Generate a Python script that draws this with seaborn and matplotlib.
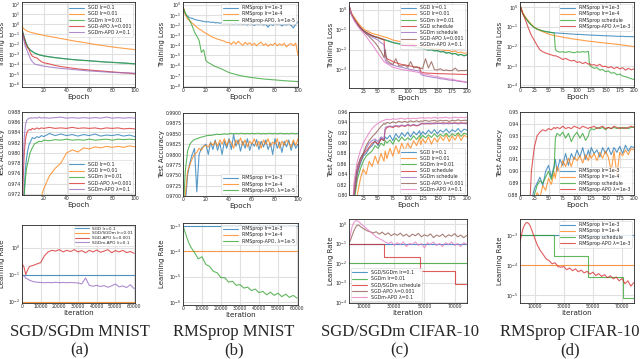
import numpy as np
import seaborn as sns
import matplotlib
matplotlib.use("Agg")
import matplotlib.pyplot as plt
from matplotlib.ticker import LogLocator, NullFormatter, FormatStrFormatter

# ---------------- data ----------------
# epochs used for the MNIST panels
ep_a = [1, 2, 3, 4, 5, 6, 7, 8, 9, 10, 12, 14, 16, 18, 20, 25, 30, 35, 40, 45,
        50, 55, 60, 65, 70, 75, 80, 85, 90, 95, 100]
ep_b = list(range(0, 101, 2))
# epochs used for the CIFAR-10 panels
ep_c = [1, 5, 10, 15, 20, 25, 30, 35, 40, 45, 50, 55, 60, 62, 65, 70, 75, 80, 85,
        90, 95, 100, 105, 110, 115, 120, 122, 125, 130, 135, 140, 145, 150, 155,
        160, 165, 170, 175, 180, 185, 190, 195, 200]
iters_mnist = [0, 1000, 2000, 3000, 4000] + list(range(6000, 60001, 2000))
iters_cifar = [0, 1000, 2000, 3000, 4000, 5000, 6000, 7000, 8000] + list(range(10000, 78001, 2000))
sched_iters = [0, 23460, 46920, 70380, 78200]

# (a) SGD/SGDm MNIST
a_loss_sgd01 = [0.28, 0.11, 0.045, 0.02, 0.0095, 0.0052, 0.0036, 0.0026, 0.0021, 0.0018, 0.00125, 0.001,
                0.00083, 0.00072, 0.00064, 0.00052, 0.00043, 0.00037, 0.00032, 0.00028, 0.00025, 0.00023,
                0.00021, 0.00019, 0.00017, 0.000155, 0.000145, 0.000135, 0.000125, 0.000115, 0.000105]
a_loss_sgd001 = [0.6, 0.38, 0.29, 0.24, 0.21, 0.18, 0.165, 0.15, 0.14, 0.13, 0.115, 0.1, 0.09, 0.08, 0.07,
                 0.055, 0.044, 0.034, 0.027, 0.021, 0.017, 0.014, 0.011, 0.0088, 0.0072, 0.006, 0.005,
                 0.0042, 0.0036, 0.0031, 0.0027]
a_loss_sgdm = [0.25, 0.1, 0.04, 0.018, 0.009, 0.005, 0.0035, 0.0025, 0.002, 0.0017, 0.0012, 0.00095, 0.0008,
               0.0007, 0.00062, 0.0005, 0.00042, 0.00036, 0.00031, 0.00027, 0.00024, 0.00022, 0.0002,
               0.00018, 0.000165, 0.00015, 0.00014, 0.00013, 0.00012, 0.00011, 0.0001]
a_loss_sgdapo = [0.2, 0.08, 0.03, 0.012, 0.006, 0.004, 0.003, 0.0015, 0.0009, 0.0006, 0.00045, 0.0004,
                 0.00025, 0.00017, 0.00013, 0.0001, 7e-5, 5.5e-5, 4.5e-5, 3.8e-5, 3.2e-5, 2.8e-5, 2.5e-5,
                 2.2e-5, 2e-5, 1.8e-5, 1.6e-5, 1.45e-5, 1.3e-5, 1.2e-5, 1e-5]
a_loss_sgdmapo = [0.15, 0.05, 0.015, 0.005, 0.003, 0.0015, 0.0008, 0.0004, 0.00025, 0.00017, 0.0001, 8.5e-5,
                  7.5e-5, 6.5e-5, 6e-5, 5e-5, 4.2e-5, 3.6e-5, 3.2e-5, 2.8e-5, 2.5e-5, 2.2e-5, 2e-5, 1.85e-5,
                  1.7e-5, 1.55e-5, 1.45e-5, 1.35e-5, 1.3e-5, 1.25e-5, 1.2e-5]
a_acc_sgd01 = [0.96, 0.968, 0.973, 0.977, 0.979, 0.9805, 0.9815, 0.982, 0.9825, 0.983, 0.9828, 0.9832, 0.983,
               0.9834, 0.9832, 0.9838, 0.9834, 0.9837, 0.9834, 0.9836, 0.9833, 0.9836, 0.9834, 0.9837, 0.9833,
               0.9835, 0.9834, 0.9836, 0.9833, 0.9835, 0.9832]
a_acc_sgd001 = [0.93, 0.94, 0.945, 0.95, 0.953, 0.956, 0.958, 0.96, 0.962, 0.963, 0.966, 0.968, 0.97, 0.9715,
                0.973, 0.9755, 0.977, 0.978, 0.98, 0.9806, 0.9802, 0.981, 0.9808, 0.9812, 0.981, 0.9813,
                0.9811, 0.9813, 0.9811, 0.9814, 0.9812]
a_acc_sgdm = [0.955, 0.966, 0.972, 0.975, 0.977, 0.978, 0.979, 0.98, 0.9805, 0.981, 0.9818, 0.982, 0.9823,
              0.9822, 0.9825, 0.9824, 0.9826, 0.9825, 0.9827, 0.9825, 0.9826, 0.9825, 0.9827, 0.9825, 0.9826,
              0.9827, 0.9825, 0.9827, 0.9826, 0.9827, 0.9826]
a_acc_sgdapo = [0.965, 0.975, 0.98, 0.9825, 0.9838, 0.9843, 0.9845, 0.9846, 0.9845, 0.9848, 0.9846, 0.9849,
                0.9847, 0.9849, 0.9848, 0.985, 0.9848, 0.9849, 0.9848, 0.985, 0.9848, 0.9849, 0.9848, 0.9849,
                0.9847, 0.9849, 0.9848, 0.9849, 0.9847, 0.9848, 0.9847]
a_acc_sgdmapo = [0.97, 0.978, 0.983, 0.9855, 0.9863, 0.9866, 0.9868, 0.9868, 0.9869, 0.9868, 0.9869, 0.9868,
                 0.987, 0.9868, 0.9869, 0.9868, 0.9869, 0.987, 0.9868, 0.9869, 0.9868, 0.9869, 0.9868, 0.9869,
                 0.9868, 0.987, 0.9868, 0.9869, 0.9868, 0.9869, 0.9868]
a_lr_sgd01 = [0.1, 0.1]
a_lr_sgd001 = [0.01, 0.01]
a_lr_sgdapo = [0.25, 0.2, 0.1, 0.15, 0.2, 0.22, 0.25, 0.28, 0.5, 0.7, 0.8, 0.75, 0.85, 0.7, 0.8, 0.72, 0.85,
               0.7, 0.78, 0.65, 0.8, 0.7, 0.82, 0.68, 0.75, 0.85, 0.65, 0.78, 0.7, 0.8, 0.66, 0.72, 0.62]
a_lr_sgdmapo = [0.1, 0.09, 0.075, 0.068, 0.062, 0.055, 0.052, 0.051, 0.05, 0.051, 0.05, 0.052, 0.05, 0.051,
                0.05, 0.051, 0.05, 0.049, 0.045, 0.075, 0.04, 0.037, 0.04, 0.036, 0.039, 0.034, 0.038, 0.045,
                0.035, 0.038, 0.033, 0.042, 0.03]

# (b) RMSprop MNIST
b_loss_1e3 = [0.6, 0.12, 0.07, 0.05, 0.045, 0.035, 0.03, 0.028, 0.025, 0.022, 0.02, 0.021, 0.018, 0.019,
              0.016, 0.017, 0.015, 0.016, 0.014, 0.015, 0.013, 0.014, 0.012, 0.015, 0.012, 0.014, 0.011,
              0.013, 0.010, 0.014, 0.012, 0.009, 0.013, 0.011, 0.014, 0.010, 0.012, 0.006, 0.013, 0.009,
              0.014, 0.011, 0.013, 0.008, 0.012, 0.010, 0.013, 0.009, 0.005, 0.012, 0.02]
b_loss_1e4 = [0.8, 0.1, 0.04, 0.025, 0.015, 0.01, 0.006, 0.004, 0.003, 0.002, 0.0015, 0.0011, 0.0008, 0.0006,
              0.0005, 0.0004, 0.00035, 0.0003, 0.00025, 0.00018, 0.0002, 0.00012, 0.00022, 0.00013, 0.00025,
              0.00015, 0.0001, 0.0002, 0.00012, 0.00018, 0.0001, 0.00016, 0.00009, 0.00015, 0.0002, 0.0001,
              0.00015, 0.00008, 0.00013, 0.0001, 0.00017, 0.00009, 0.00014, 0.0001, 0.00016, 0.00007,
              0.00012, 0.00015, 0.00009, 0.00017, 0.00001]
b_loss_apo = [0.5, 0.15, 0.06, 0.025, 0.008, 0.002, 0.0008, 0.0003, 2e-5, 3.6e-5, 3e-6, 2e-6, 1.5e-6, 1.1e-6,
              8.5e-7, 6.8e-7, 5.5e-7, 4.5e-7, 3.5e-7, 2.7e-7, 2.1e-7, 1.8e-7, 1.55e-7, 1.35e-7, 1.2e-7,
              1.05e-7, 9.5e-8, 8.6e-8, 7.9e-8, 7.3e-8, 6.8e-8, 6.3e-8, 5.9e-8, 5.5e-8, 5.2e-8, 4.9e-8,
              4.7e-8, 4.5e-8, 4.3e-8, 4.1e-8, 4e-8, 3.8e-8, 3.6e-8, 3.5e-8, 3.3e-8, 3.2e-8, 3.1e-8, 3e-8,
              2.9e-8, 2.8e-8, 2.7e-8]
b_acc_1e3 = [0.95, 0.968, 0.975, 0.978, 0.98, 0.9815, 0.971, 0.98, 0.9815, 0.982, 0.9825, 0.98, 0.983,
             0.9812, 0.9835, 0.981, 0.9828, 0.98, 0.9832, 0.9815, 0.9838, 0.9812, 0.9848, 0.982, 0.9835,
             0.9808, 0.9832, 0.9815, 0.9838, 0.981, 0.9828, 0.982, 0.9836, 0.9812, 0.9832, 0.9818, 0.9835,
             0.9812, 0.9828, 0.98, 0.9838, 0.9815, 0.983, 0.9805, 0.9832, 0.9818, 0.9835, 0.981, 0.983,
             0.9815, 0.9825]
b_acc_1e4 = [0.95, 0.97, 0.976, 0.9775, 0.979, 0.98, 0.9805, 0.9815, 0.981, 0.982, 0.9822, 0.9818, 0.9828,
             0.9822, 0.9832, 0.982, 0.9835, 0.9825, 0.9838, 0.9822, 0.9835, 0.9828, 0.9815, 0.9835, 0.9825,
             0.984, 0.9822, 0.9835, 0.9818, 0.9832, 0.9825, 0.9838, 0.982, 0.9832, 0.9815, 0.9835, 0.9825,
             0.9838, 0.982, 0.983, 0.9825, 0.9838, 0.9815, 0.9832, 0.9822, 0.9835, 0.9828, 0.9818, 0.9835,
             0.9822, 0.9838]
b_acc_apo = [0.965, 0.976, 0.9808, 0.9825, 0.9832, 0.9836, 0.9838, 0.984, 0.9842, 0.9843, 0.9845, 0.9846,
             0.9846, 0.9847, 0.9848, 0.9849, 0.9848, 0.9849, 0.985, 0.9849, 0.985, 0.9851, 0.985, 0.9851,
             0.985, 0.9851, 0.9851, 0.985, 0.9851, 0.985, 0.9851, 0.985, 0.9851, 0.9851, 0.985, 0.9851,
             0.985, 0.9851, 0.9851, 0.985, 0.9851, 0.985, 0.9851, 0.9851, 0.985, 0.9851, 0.985, 0.9851,
             0.9851, 0.985, 0.9851]
b_lr_1e3 = [1e-3, 1e-3]
b_lr_1e4 = [1e-4, 1e-4]
b_lr_apo = [1e-3, 6e-4, 3.5e-4, 2.2e-4, 1.5e-4, 9e-5, 5e-5, 6e-5, 3e-5, 2.5e-5, 1.6e-5, 1.4e-5, 9e-6, 9e-6,
            6e-6, 6.5e-6, 4.5e-6, 4.8e-6, 3.5e-6, 3.8e-6, 2.8e-6, 3.2e-6, 2.3e-6, 2.6e-6, 1.9e-6, 2.4e-6,
            1.8e-6, 2.2e-6, 1.6e-6, 2e-6, 1.5e-6, 1.8e-6, 1.4e-6]

# (c) SGD/SGDm CIFAR-10
c_loss_sgd01 = [1.6, 0.6, 0.33, 0.2, 0.13, 0.09, 0.072, 0.06, 0.05, 0.044, 0.04, 0.035, 0.032, 0.031, 0.029,
                0.026, 0.023, 0.021, 0.02, 0.019, 0.017, 0.016, 0.015, 0.0145, 0.013, 0.012, 0.013, 0.011,
                0.0105, 0.0095, 0.01, 0.0088, 0.009, 0.0078, 0.008, 0.0068, 0.0072, 0.006, 0.0065, 0.0052,
                0.0058, 0.0048, 0.0055]
c_loss_sgd001 = [1.6, 0.7, 0.4, 0.25, 0.16, 0.11, 0.09, 0.075, 0.065, 0.058, 0.054, 0.048, 0.043, 0.042, 0.04,
                 0.035, 0.03, 0.028, 0.026, 0.024, 0.022, 0.02, 0.019, 0.018, 0.016, 0.015, 0.016, 0.014,
                 0.013, 0.0125, 0.012, 0.011, 0.011, 0.01, 0.0095, 0.0088, 0.009, 0.0078, 0.0085, 0.007,
                 0.0075, 0.0065, 0.0068]
c_loss_sgdm = [1.6, 0.58, 0.31, 0.19, 0.125, 0.088, 0.07, 0.058, 0.049, 0.043, 0.039, 0.034, 0.031, 0.03,
               0.028, 0.025, 0.022, 0.021, 0.019, 0.018, 0.0165, 0.0155, 0.0145, 0.014, 0.0125, 0.0118, 0.0125,
               0.011, 0.0102, 0.0095, 0.0098, 0.0085, 0.0088, 0.0076, 0.0079, 0.0066, 0.0071, 0.006, 0.0064,
               0.0053, 0.0057, 0.005, 0.0055]
c_loss_sgdsched = [1.6, 0.6, 0.33, 0.2, 0.13, 0.09, 0.072, 0.06, 0.05, 0.044, 0.04, 0.035, 0.032, 0.005,
                   0.0035, 0.003, 0.0025, 0.0022, 0.002, 0.0018, 0.0017, 0.0016, 0.0015, 0.0014, 0.0013,
                   0.0013, 0.0008, 0.0007, 0.00068, 0.00066, 0.00065, 0.00064, 0.00063, 0.00062, 0.00062,
                   0.00061, 0.0006, 0.0006, 0.00059, 0.00058, 0.00058, 0.00057, 0.00057]
c_loss_sgdmsched = [1.6, 0.58, 0.3, 0.18, 0.12, 0.085, 0.065, 0.052, 0.043, 0.036, 0.03, 0.022, 0.018, 0.003,
                    0.0022, 0.0019, 0.0017, 0.0015, 0.0014, 0.0013, 0.0012, 0.0011, 0.001, 0.00095, 0.0009,
                    0.00085, 0.0006, 0.00052, 0.00048, 0.00045, 0.00042, 0.0004, 0.00038, 0.00035, 0.00034,
                    0.00032, 0.0003, 0.00029, 0.00028, 0.00026, 0.00025, 0.00024, 0.00023]
c_loss_sgdapo = [1.6, 0.6, 0.32, 0.19, 0.12, 0.085, 0.06, 0.045, 0.032, 0.022, 0.014, 0.008, 0.004, 0.01,
                 0.0028, 0.0022, 0.0018, 0.0035, 0.0016, 0.0015, 0.0017, 0.0013, 0.0025, 0.0012, 0.0014,
                 0.0011, 0.0012, 0.0011, 0.0035, 0.0012, 0.0025, 0.001, 0.00095, 0.0011, 0.0009, 0.00095,
                 0.00088, 0.0009, 0.0012, 0.00085, 0.0009, 0.00088, 0.00092]
c_loss_sgdmapo = [1.6, 0.55, 0.28, 0.16, 0.1, 0.07, 0.045, 0.028, 0.018, 0.011, 0.0065, 0.004, 0.0025, 0.0022,
                  0.002, 0.0016, 0.0013, 0.0012, 0.0011, 0.001, 0.00095, 0.0009, 0.00085, 0.0008, 0.00075,
                  0.0007, 0.00068, 0.00062, 0.00058, 0.00055, 0.0005, 0.00047, 0.00045, 0.0004, 0.00038,
                  0.00036, 0.00034, 0.00033, 0.0003, 0.00028, 0.00027, 0.00025, 0.00023]
c_acc_sgd01 = [0.55, 0.72, 0.80, 0.84, 0.86, 0.875, 0.88, 0.89, 0.895, 0.905, 0.895, 0.91, 0.905, 0.912, 0.908,
               0.915, 0.905, 0.918, 0.91, 0.92, 0.913, 0.921, 0.912, 0.922, 0.916, 0.924, 0.915, 0.922, 0.917,
               0.925, 0.919, 0.926, 0.918, 0.925, 0.921, 0.927, 0.92, 0.926, 0.922, 0.928, 0.921, 0.927, 0.925]
c_acc_sgd001 = [0.5, 0.68, 0.76, 0.80, 0.83, 0.85, 0.84, 0.865, 0.855, 0.875, 0.86, 0.88, 0.865, 0.885, 0.87,
                0.89, 0.875, 0.895, 0.88, 0.9, 0.885, 0.9, 0.89, 0.905, 0.895, 0.91, 0.897, 0.908, 0.9, 0.912,
                0.898, 0.91, 0.902, 0.913, 0.905, 0.916, 0.903, 0.914, 0.906, 0.917, 0.905, 0.915, 0.912]
c_acc_sgdm = [0.55, 0.71, 0.79, 0.83, 0.85, 0.865, 0.875, 0.88, 0.885, 0.895, 0.89, 0.9, 0.895, 0.905, 0.9,
              0.906, 0.898, 0.91, 0.903, 0.912, 0.905, 0.91, 0.906, 0.914, 0.907, 0.915, 0.909, 0.915, 0.91,
              0.916, 0.911, 0.918, 0.912, 0.917, 0.913, 0.919, 0.912, 0.918, 0.914, 0.92, 0.913, 0.919, 0.917]
c_acc_sgdsched = [0.55, 0.72, 0.8, 0.845, 0.865, 0.878, 0.885, 0.892, 0.9, 0.903, 0.898, 0.908, 0.905, 0.925,
                  0.93, 0.932, 0.93, 0.933, 0.931, 0.934, 0.932, 0.935, 0.933, 0.935, 0.933, 0.935, 0.937,
                  0.938, 0.937, 0.938, 0.937, 0.939, 0.938, 0.938, 0.939, 0.938, 0.939, 0.938, 0.939, 0.938,
                  0.939, 0.938, 0.939]
c_acc_sgdmsched = [0.55, 0.73, 0.81, 0.85, 0.87, 0.88, 0.89, 0.9, 0.905, 0.908, 0.903, 0.912, 0.908, 0.93,
                   0.932, 0.933, 0.932, 0.934, 0.933, 0.935, 0.933, 0.936, 0.934, 0.936, 0.934, 0.936, 0.937,
                   0.937, 0.938, 0.937, 0.938, 0.937, 0.938, 0.938, 0.937, 0.938, 0.937, 0.938, 0.938, 0.937,
                   0.938, 0.938, 0.937]
c_acc_sgdapo = [0.55, 0.74, 0.82, 0.855, 0.87, 0.88, 0.895, 0.905, 0.912, 0.918, 0.925, 0.932, 0.938, 0.936,
                0.94, 0.938, 0.941, 0.939, 0.942, 0.94, 0.942, 0.94, 0.943, 0.941, 0.943, 0.941, 0.943, 0.942,
                0.944, 0.942, 0.943, 0.944, 0.942, 0.944, 0.943, 0.944, 0.942, 0.944, 0.943, 0.945, 0.943,
                0.944, 0.944]
c_acc_sgdmapo = [0.55, 0.75, 0.83, 0.865, 0.885, 0.9, 0.91, 0.92, 0.928, 0.934, 0.938, 0.942, 0.944, 0.945,
                 0.946, 0.945, 0.947, 0.946, 0.947, 0.948, 0.946, 0.948, 0.947, 0.948, 0.947, 0.949, 0.948,
                 0.949, 0.948, 0.949, 0.948, 0.95, 0.948, 0.949, 0.949, 0.95, 0.948, 0.949, 0.95, 0.949, 0.95,
                 0.949, 0.95]
c_lr_sgd01 = [0.1, 0.1]
c_lr_sgdm001 = [0.01, 0.01]
c_lr_sched = [0.1, 0.02, 0.004, 0.0008, 0.0008]
c_lr_sgdapo = [0.1, 0.15, 0.25, 0.4, 0.6, 0.8, 0.9, 0.8, 0.7, 0.55, 0.45, 0.4, 0.35, 0.4, 0.3, 0.38, 0.28,
               0.35, 0.25, 0.32, 0.26, 0.34, 0.24, 0.3, 0.22, 0.3, 0.25, 0.33, 0.22, 0.28, 0.24, 0.31, 0.2,
               0.27, 0.23, 0.3, 0.21, 0.28, 0.24, 0.32, 0.22, 0.27, 0.2, 0.26]
c_lr_sgdmapo = [0.1, 0.3, 0.7, 1.1, 1.4, 1.5, 1.4, 1.2, 1.0, 0.75, 0.55, 0.4, 0.3, 0.22, 0.18, 0.15, 0.12, 0.1,
                0.12, 0.08, 0.11, 0.09, 0.12, 0.07, 0.1, 0.09, 0.12, 0.08, 0.1, 0.06, 0.11, 0.09, 0.12, 0.08,
                0.1, 0.07, 0.11, 0.09, 0.12, 0.08, 0.1, 0.07, 0.11, 0.09]

# (d) RMSprop CIFAR-10
d_loss_1e3 = [1.0, 0.45, 0.27, 0.17, 0.12, 0.09, 0.075, 0.066, 0.06, 0.056, 0.053, 0.05, 0.048, 0.048, 0.047,
              0.046, 0.045, 0.044, 0.043, 0.042, 0.041, 0.04, 0.04, 0.039, 0.038, 0.038, 0.037, 0.037, 0.036,
              0.036, 0.035, 0.035, 0.034, 0.034, 0.033, 0.033, 0.032, 0.032, 0.032, 0.031, 0.031, 0.031, 0.03]
d_loss_1e4 = [1.0, 0.5, 0.3, 0.19, 0.13, 0.09, 0.075, 0.063, 0.055, 0.048, 0.042, 0.038, 0.035, 0.034, 0.033,
              0.031, 0.029, 0.027, 0.026, 0.024, 0.023, 0.022, 0.021, 0.02, 0.019, 0.018, 0.018, 0.0175, 0.017,
              0.016, 0.0155, 0.015, 0.0145, 0.014, 0.0135, 0.013, 0.0125, 0.012, 0.0115, 0.011, 0.0105, 0.01,
              0.0095]
d_loss_sched = [1.0, 0.45, 0.27, 0.17, 0.12, 0.09, 0.075, 0.066, 0.06, 0.056, 0.053, 0.05, 0.048, 0.007,
                0.0055, 0.005, 0.0052, 0.0048, 0.0053, 0.005, 0.0046, 0.0052, 0.0049, 0.0053, 0.005, 0.0055,
                0.0011, 0.0009, 0.00075, 0.0008, 0.0006, 0.00065, 0.0005, 0.00055, 0.00042, 0.00045, 0.00035,
                0.00038, 0.0003, 0.00028, 0.00025, 0.00022, 0.0002]
d_loss_apo = [1.0, 0.45, 0.2, 0.08, 0.035, 0.02, 0.011, 0.0065, 0.0052, 0.0045, 0.004, 0.0036, 0.0032, 0.0033,
              0.003, 0.0026, 0.0021, 0.0024, 0.002, 0.0018, 0.0019, 0.0015, 0.0016, 0.0013, 0.0015, 0.0012,
              0.0013, 0.0011, 0.00115, 0.001, 0.0012, 0.0009, 0.00095, 0.0008, 0.0009, 0.00072, 0.00085,
              0.0007, 0.0008, 0.0006, 0.00075, 0.00062, 0.0007]
d_acc_1e3 = [0.55, 0.72, 0.8, 0.85, 0.875, 0.885, 0.89, 0.895, 0.888, 0.9, 0.905, 0.895, 0.905, 0.91, 0.9,
             0.91, 0.905, 0.915, 0.905, 0.915, 0.91, 0.918, 0.912, 0.92, 0.91, 0.918, 0.913, 0.92, 0.915, 0.918,
             0.912, 0.92, 0.915, 0.92, 0.914, 0.92, 0.916, 0.921, 0.915, 0.922, 0.917, 0.921, 0.92]
d_acc_1e4 = [0.5, 0.68, 0.78, 0.83, 0.855, 0.872, 0.882, 0.878, 0.888, 0.884, 0.894, 0.889, 0.899, 0.894,
             0.904, 0.899, 0.909, 0.904, 0.911, 0.904, 0.912, 0.909, 0.913, 0.907, 0.914, 0.909, 0.914, 0.911,
             0.915, 0.909, 0.916, 0.911, 0.917, 0.912, 0.9, 0.917, 0.897, 0.916, 0.913, 0.918, 0.914, 0.919,
             0.918]
d_acc_sched = [0.55, 0.72, 0.8, 0.85, 0.872, 0.88, 0.888, 0.892, 0.89, 0.895, 0.9, 0.893, 0.903, 0.928, 0.932,
               0.93, 0.933, 0.928, 0.932, 0.925, 0.93, 0.933, 0.928, 0.932, 0.926, 0.93, 0.934, 0.936, 0.935,
               0.937, 0.936, 0.937, 0.935, 0.937, 0.936, 0.937, 0.936, 0.937, 0.936, 0.937, 0.936, 0.937, 0.937]
d_acc_apo = [0.5, 0.6, 0.7, 0.85, 0.9, 0.92, 0.93, 0.933, 0.935, 0.934, 0.936, 0.935, 0.937, 0.936, 0.937,
             0.936, 0.938, 0.936, 0.937, 0.936, 0.938, 0.937, 0.936, 0.938, 0.937, 0.936, 0.937, 0.937, 0.938,
             0.936, 0.937, 0.938, 0.936, 0.937, 0.936, 0.938, 0.937, 0.936, 0.937, 0.936, 0.937, 0.938, 0.937]
d_lr_1e3 = [1e-3, 1e-3]
d_lr_1e4 = [1e-4, 1e-4]
d_lr_sched = [1e-3, 2e-4, 4e-5, 8e-6, 8e-6]
d_lr_apo = [6e-4, 1e-3, 1.6e-3, 2.1e-3, 2.5e-3, 2.6e-3, 2.4e-3, 2e-3, 1.5e-3, 8e-4, 4.5e-4, 3e-4, 2.2e-4,
            1.6e-4, 1.4e-4, 1.1e-4, 1.2e-4, 9e-5, 8.5e-5, 9e-5, 7e-5, 8e-5, 6.5e-5, 7.5e-5, 6e-5, 6.8e-5,
            5.5e-5, 6.2e-5, 5e-5, 5.8e-5, 4.5e-5, 5.2e-5, 4.2e-5, 4.8e-5, 3.8e-5, 4.4e-5, 3.5e-5, 4e-5, 3e-5,
            3.6e-5, 2.4e-5, 3e-5, 2e-5, 2.6e-5]

captions = ["SGD/SGDm MNIST", "RMSprop MNIST", "SGD/SGDm CIFAR-10", "RMSprop CIFAR-10"]
letters = ["(a)", "(b)", "(c)", "(d)"]

# ---------------- drawing ----------------
sns.set_style("whitegrid", {"axes.edgecolor": "0.15", "grid.color": "0.88"})
plt.rcParams['font.family'] = ['DejaVu Sans']

fig = plt.figure(figsize=(6.4, 3.59), dpi=100)


def box(l, t, r, b):
    # pixel box -> figure axes
    return fig.add_axes([l / 640, 1 - b / 359, (r - l) / 640, (b - t) / 359])


def lines(ax, x, ys, labels, colors):
    for y, lab, col in zip(ys, labels, colors):
        sns.lineplot(x=x, y=y, ax=ax, color=col, label=lab, lw=0.8, alpha=0.75, estimator=None)


def style(ax, xlabel, ylabel, ylab_px, left, width, log=False, legloc='upper right'):
    ax.set_xlabel(xlabel, fontsize=5.2, labelpad=0.5)
    ax.set_ylabel(ylabel, fontsize=5.0)
    ax.yaxis.set_label_coords((ylab_px - left) / width, 0.5)
    ax.tick_params(labelsize=3.3, pad=1, length=0)
    for s in ax.spines.values():
        s.set_linewidth(0.6)
    if log:
        ax.set_yscale('log')
        ax.yaxis.set_major_locator(LogLocator(base=10, numticks=20))
        ax.yaxis.set_minor_formatter(NullFormatter())
    leg = ax.legend(loc=legloc, fontsize=3.4, handlelength=3.2, labelspacing=0.25, borderpad=0.35,
                    framealpha=0.85, borderaxespad=0.35)
    leg.get_frame().set_linewidth(0.4)


cols_x = [(22, 135), (183, 298), (349, 467), (520, 634)]
ylab_x = [5.5, 165, 334, 503]
row3_top = [225, 223, 219, 219]

C = sns.color_palette("tab10")
blue, orange, green, red, purple, brown, pink = C[0], C[1], C[2], C[3], C[4], C[5], C[6]

# ---- column a ----
L, W = cols_x[0][0], cols_x[0][1] - cols_x[0][0]
a_labels = ["SGD lr=0.1", "SGD lr=0.01", "SGDm lr=0.01", "SGD-APO λ=0.001", "SGDm-APO λ=0.1"]
ax = box(cols_x[0][0], 2, cols_x[0][1], 87)
lines(ax, ep_a, [a_loss_sgd01, a_loss_sgd001, a_loss_sgdm, a_loss_sgdapo, a_loss_sgdmapo],
      a_labels, [blue, orange, green, red, purple])
style(ax, "Epoch", "Training Loss", ylab_x[0], L, W, log=True)
ax.set_ylim(5e-7, 1.5e2)
ax.set_xlim(1, 100)
ax.set_xticks([20, 40, 60, 80, 100])

ax = box(cols_x[0][0], 112, cols_x[0][1], 195)
lines(ax, ep_a, [a_acc_sgd01, a_acc_sgd001, a_acc_sgdm, a_acc_sgdapo, a_acc_sgdmapo],
      a_labels, [blue, orange, green, red, purple])
style(ax, "Epoch", "Test Accuracy", ylab_x[0], L, W, legloc='lower right')
ax.set_ylim(0.9718, 0.988)
ax.set_yticks(np.arange(0.972, 0.98801, 0.002))
ax.yaxis.set_major_formatter(FormatStrFormatter('%.3f'))
ax.set_xlim(1, 100)
ax.set_xticks([20, 40, 60, 80, 100])

ax = box(cols_x[0][0], row3_top[0], cols_x[0][1], 303)
sns.lineplot(x=[0, 60000], y=a_lr_sgd01, ax=ax, color=blue, label="SGD lr=0.1", lw=0.8, alpha=0.75)
sns.lineplot(x=[0, 60000], y=a_lr_sgd001, ax=ax, color=orange, label="SGD/SGDm lr=0.01", lw=0.8, alpha=0.75)
lines(ax, iters_mnist, [a_lr_sgdapo, a_lr_sgdmapo], ["SGD-APO λ=0.001", "SGDm-APO λ=0.1"], [red, purple])
style(ax, "Iteration", "Learning Rate", ylab_x[0], L, W, log=True)
ax.legend_.remove()
leg = ax.legend(loc='upper right', fontsize=3.1, handlelength=3.2, labelspacing=0.12, borderpad=0.25,
                framealpha=0.85, borderaxespad=0.2)
leg.get_frame().set_linewidth(0.4)
ax.set_ylim(0.0088, 7)
ax.set_xlim(0, 60500)
ax.set_xticks(range(0, 60001, 10000))

# ---- column b ----
L, W = cols_x[1][0], cols_x[1][1] - cols_x[1][0]
b_labels = ["RMSprop lr=1e-3", "RMSprop lr=1e-4", "RMSprop-APO, λ=1e-5"]
ax = box(cols_x[1][0], 2, cols_x[1][1], 87)
lines(ax, ep_b, [b_loss_1e3, b_loss_1e4, b_loss_apo], b_labels, [blue, orange, green])
style(ax, "Epoch", "Training Loss", ylab_x[1], L, W, log=True)
ax.set_ylim(8e-9, 1.8)
ax.set_xlim(0, 100)
ax.set_xticks(range(0, 101, 20))

ax = box(cols_x[1][0], 113, cols_x[1][1], 196)
lines(ax, ep_b, [b_acc_1e3, b_acc_1e4, b_acc_apo], b_labels, [blue, orange, green])
style(ax, "Epoch", "Test Accuracy", ylab_x[1], L, W, legloc='lower right')
ax.set_ylim(0.97, 0.99)
ax.set_yticks(np.arange(0.97, 0.99001, 0.0025))
ax.yaxis.set_major_formatter(FormatStrFormatter('%.4f'))
ax.set_xlim(0, 100)
ax.set_xticks(range(0, 101, 20))

ax = box(cols_x[1][0], row3_top[1], cols_x[1][1], 305)
sns.lineplot(x=[0, 60000], y=b_lr_1e3, ax=ax, color=blue, label=b_labels[0], lw=0.8, alpha=0.75)
sns.lineplot(x=[0, 60000], y=b_lr_1e4, ax=ax, color=orange, label=b_labels[1], lw=0.8, alpha=0.75)
lines(ax, iters_mnist, [b_lr_apo], [b_labels[2]], [green])
style(ax, "Iteration", "Learning Rate", ylab_x[1], L, W, log=True)
ax.set_ylim(7.5e-7, 1.3e-3)
ax.set_xlim(0, 60500)
ax.set_xticks(range(0, 60001, 10000))

# ---- column c ----
L, W = cols_x[2][0], cols_x[2][1] - cols_x[2][0]
c_labels = ["SGD lr=0.1", "SGD lr=0.01", "SGDm lr=0.01", "SGD schedule", "SGDm schedule",
            "SGD-APO λ=0.001", "SGDm-APO λ=0.1"]
c_colors = [blue, orange, green, red, purple, brown, pink]
ax = box(cols_x[2][0], 2, cols_x[2][1], 88)
lines(ax, ep_c, [c_loss_sgd01, c_loss_sgd001, c_loss_sgdm, c_loss_sgdsched, c_loss_sgdmsched,
                 c_loss_sgdapo, c_loss_sgdmapo], c_labels, c_colors)
style(ax, "Epoch", "Training Loss", ylab_x[2], L, W, log=True)
ax.set_ylim(1.2e-4, 2.4)
ax.set_xlim(1, 200)
ax.set_xticks(range(25, 201, 25))

ax = box(cols_x[2][0], 112, cols_x[2][1], 195)
lines(ax, ep_c, [c_acc_sgd01, c_acc_sgd001, c_acc_sgdm, c_acc_sgdsched, c_acc_sgdmsched,
                 c_acc_sgdapo, c_acc_sgdmapo], c_labels, c_colors)
style(ax, "Epoch", "Test Accuracy", ylab_x[2], L, W, legloc='lower right')
ax.set_ylim(0.80, 0.96)
ax.set_yticks(np.arange(0.80, 0.9601, 0.02))
ax.yaxis.set_major_formatter(FormatStrFormatter('%.2f'))
ax.set_xlim(1, 200)
ax.set_xticks(range(25, 201, 25))

ax = box(cols_x[2][0], row3_top[2], cols_x[2][1], 303)
sns.lineplot(x=[0, 78200], y=c_lr_sgd01, ax=ax, color=blue, label="SGD/SGDm lr=0.1", lw=0.8, alpha=0.75)
sns.lineplot(x=[0, 78200], y=c_lr_sgdm001, ax=ax, color=green, label="SGDm lr=0.01", lw=0.8, alpha=0.75)
sns.lineplot(x=sched_iters, y=c_lr_sched, ax=ax, color=red, label="SGD/SGDm schedule", lw=0.8,
             alpha=0.75, drawstyle='steps-post', estimator=None)
lines(ax, iters_cifar, [c_lr_sgdapo, c_lr_sgdmapo], ["SGD-APO λ=0.001", "SGDm-APO λ=0.1"], [brown, pink])
style(ax, "Iteration", "Learning Rate", ylab_x[2], L, W, log=True, legloc='lower left')
ax.set_ylim(9e-5, 1.8)
ax.set_xlim(0, 78200)
ax.set_xticks([10000, 30000, 50000, 70000])

# ---- column d ----
L, W = cols_x[3][0], cols_x[3][1] - cols_x[3][0]
d_labels = ["RMSprop lr=1e-3", "RMSprop lr=1e-4", "RMSprop schedule", "RMSprop-APO λ=1e-3"]
d_colors = [blue, orange, green, red]
ax = box(cols_x[3][0], 2, cols_x[3][1], 87)
lines(ax, ep_c, [d_loss_1e3, d_loss_1e4, d_loss_sched, d_loss_apo], d_labels, d_colors)
style(ax, "Epoch", "Training Loss", ylab_x[3], L, W, log=True)
ax.set_ylim(8.3e-5, 1.8)
ax.set_xlim(0, 200)
ax.set_xticks(range(0, 201, 25))

ax = box(cols_x[3][0], 112, cols_x[3][1], 195)
lines(ax, ep_c, [d_acc_1e3, d_acc_1e4, d_acc_sched, d_acc_apo], d_labels, d_colors)
style(ax, "Epoch", "Test Accuracy", ylab_x[3], L, W, legloc='lower right')
ax.set_ylim(0.88, 0.95)
ax.set_yticks(np.arange(0.88, 0.9501, 0.01))
ax.yaxis.set_major_formatter(FormatStrFormatter('%.2f'))
ax.set_xlim(0, 200)
ax.set_xticks(range(0, 201, 25))

ax = box(cols_x[3][0], row3_top[3], cols_x[3][1], 303)
sns.lineplot(x=[0, 78200], y=d_lr_1e3, ax=ax, color=blue, label=d_labels[0], lw=0.8, alpha=0.75)
sns.lineplot(x=[0, 78200], y=d_lr_1e4, ax=ax, color=orange, label=d_labels[1], lw=0.8, alpha=0.75)
sns.lineplot(x=sched_iters, y=d_lr_sched, ax=ax, color=green, label=d_labels[2], lw=0.8, alpha=0.75,
             drawstyle='steps-post', estimator=None)
lines(ax, iters_cifar, [d_lr_apo], [d_labels[3]], [red])
style(ax, "Iteration", "Learning Rate", ylab_x[3], L, W, log=True)
ax.set_ylim(5.5e-6, 3.4e-3)
ax.set_xlim(0, 78200)
ax.set_xticks([10000, 30000, 50000, 70000])

# captions under each column
centers = [80, 234, 400, 570]
for cx, cap, let in zip(centers, captions, letters):
    fig.text(cx / 640, 1 - 332 / 359, cap, ha='center', va='center', fontsize=12, family='Liberation Serif')
    fig.text(cx / 640, 1 - 350 / 359, let, ha='center', va='center', fontsize=12, family='Liberation Serif')

fig.savefig("out.png", dpi=100)
